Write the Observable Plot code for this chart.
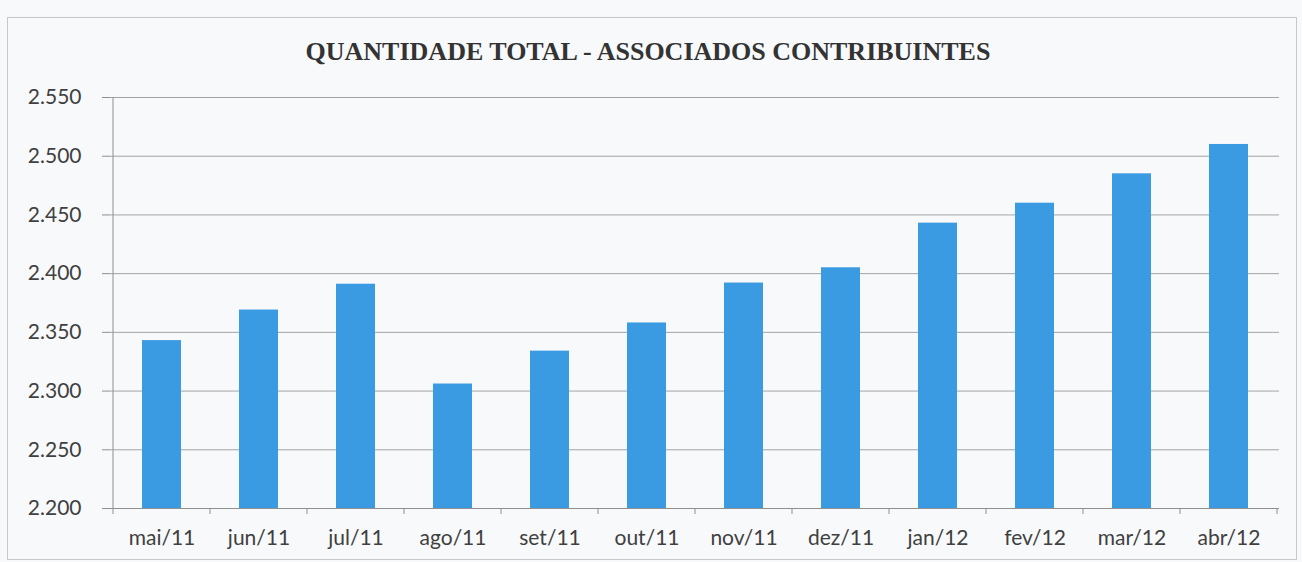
<!DOCTYPE html>
<html>
<head>
<meta charset="utf-8">
<script src="https://cdn.jsdelivr.net/npm/d3@7"></script>
<script src="https://cdn.jsdelivr.net/npm/@observablehq/plot@0.6"></script>
<style>
  html, body { margin: 0; padding: 0; background: #f8f9fb; }
  #wrap { position: relative; width: 1302px; height: 562px; overflow: hidden; }
  #frame { position: absolute; left: 7px; top: 17px; width: 1290px; height: 543px; border: 1px solid #c8c8c8; box-sizing: border-box; }
  #title { position: absolute; left: 0; top: 37px; width: 1296px; line-height: 30px; text-align: center; font-family: "Liberation Serif", "Times New Roman", serif; font-weight: bold; font-size: 26px; color: #333; }
  #chart { position: absolute; left: 0; top: 70px; }
</style>
</head>
<body>
<div id="wrap">
  <div id="frame"></div>
  <div id="title">QUANTIDADE TOTAL - ASSOCIADOS CONTRIBUINTES</div>
  <div id="chart"></div>
</div>
<script>
const months = ["mai/11","jun/11","jul/11","ago/11","set/11","out/11","nov/11","dez/11","jan/12","fev/12","mar/12","abr/12"];
const values = [2343, 2369, 2391, 2306, 2334, 2358, 2392, 2405, 2443, 2460, 2485, 2510];
const yTicks = [2200, 2250, 2300, 2350, 2400, 2450, 2500, 2550];

const data = months.map((m, i) => ({month: m, value: values[i]}));
const ptBR = d3.formatLocale({decimal: ",", thousands: ".", grouping: [3], currency: ["R$", ""]});
const fmt = ptBR.format(",");

const plot = Plot.plot({
  width: 1302,
  height: 492,
  marginLeft: 110,
  marginRight: 23,
  marginTop: 27,
  marginBottom: 54,
  style: {background: "transparent", fontFamily: "Lato, 'Open Sans', sans-serif", fontSize: "21px", color: "#404040"},
  x: {domain: months, paddingInner: 0.6, paddingOuter: 0.3, label: null},
  y: {domain: [2200, 2550], label: null},
  marks: [
    Plot.gridY(yTicks, {stroke: "#8f8f8f", strokeOpacity: 0.8, strokeWidth: 1}),
    Plot.axisY({ticks: yTicks, tickFormat: fmt, tickSize: 8, tickPadding: 21, stroke: "#8f8f8f", fontSize: 21, fill: "#404040", label: null}),
    Plot.barY(data, {x: "month", y1: 2200, y2: "value", fill: "#3a9be2"}),
    Plot.ruleY([2200], {stroke: "#8f8f8f"}),
    Plot.axisX({tickSize: 0, tickPadding: 22, fontSize: 21, fill: "#404040", label: null})
  ]
});
document.getElementById("chart").appendChild(plot);

// vertical axis line and category boundary tick marks from the band scale
const xs = plot.scale("x");
const ys = plot.scale("y");
const svg = d3.select(plot);
const step = xs.step;
const first = xs.apply(months[0]) - (step - xs.bandwidth) / 2;
const yBase = ys.apply(2200);
const g = svg.append("g").attr("stroke", "#8f8f8f");
g.append("line").attr("x1", first).attr("x2", first).attr("y1", ys.apply(2550)).attr("y2", yBase + 6);
for (let k = 1; k <= months.length; k++) {
  const x = first + k * step;
  g.append("line").attr("x1", x).attr("x2", x).attr("y1", yBase).attr("y2", yBase + 6);
}
</script>
</body>
</html>
